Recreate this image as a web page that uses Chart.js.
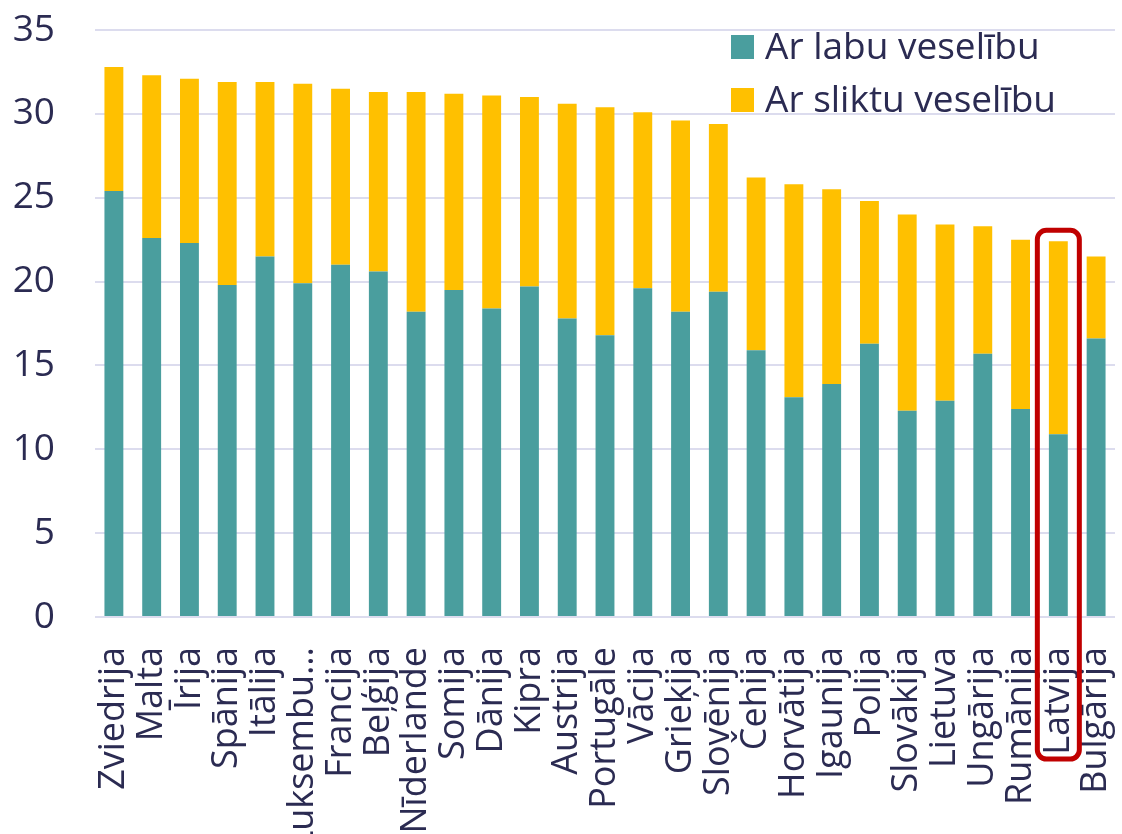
<!DOCTYPE html>
<html lang="lv">
<head>
<meta charset="utf-8">
<script src="https://cdn.jsdelivr.net/npm/chart.js@4.4.1/dist/chart.umd.min.js"></script>
<style>
  html, body { margin: 0; padding: 0; background: #fff; }
  #wrap { width: 1122px; height: 834px; }
</style>
</head>
<body>
<div id="wrap"><canvas id="chart" width="1122" height="834"></canvas></div>
<script>
const countries = ['Zviedrija', 'Malta', 'Īrija', 'Spānija', 'Itālija', 'Luksembu…', 'Francija', 'Beļģija',
    'Nīderlande', 'Somija', 'Dānija', 'Kipra', 'Austrija', 'Portugāle', 'Vācija', 'Grieķija', 'Slovēnija',
    'Čehija', 'Horvātija', 'Igaunija', 'Polija', 'Slovākija', 'Lietuva', 'Ungārija', 'Rumānija', 'Latvija', 'Bulgārija'];

// gadi ar labu veselību
const goodHealth = [25.4, 22.6, 22.3, 19.8, 21.5, 19.9, 21.0, 20.6, 18.2, 19.5, 18.4, 19.7, 17.8, 16.8,
    19.6, 18.2, 19.4, 15.9, 13.1, 13.9, 16.3, 12.3, 12.9, 15.7, 12.4, 10.9, 16.6];
// gadi ar sliktu veselību
const poorHealth = [7.4, 9.7, 9.8, 12.1, 10.4, 11.9, 10.5, 10.7, 13.1, 11.7, 12.7, 11.3, 12.8, 13.6,
    10.5, 11.4, 10.0, 10.3, 12.7, 11.6, 8.5, 11.7, 10.5, 7.6, 10.1, 11.5, 4.9];

const yTicks = [0, 5, 10, 15, 20, 25, 30, 35];
const highlight = 'Latvija';

const textColor = '#2b2b52';
const gridColor = '#dcdcee';
const fontFamily = '"Open Sans", "Noto Sans", sans-serif';

// leģenda augšējā labajā stūrī, virs zīmējuma laukuma
const legendPlugin = {
    id: 'cornerLegend',
    afterDraw(chart) {
        const ctx = chart.ctx;
        ctx.save();
        ctx.font = '37px ' + fontFamily;
        ctx.textBaseline = 'middle';
        chart.data.datasets.forEach((ds, i) => {
            const y = 47 + i * 53;
            ctx.fillStyle = ds.backgroundColor;
            ctx.fillRect(731, y - 12, 23, 24);
            ctx.fillStyle = textColor;
            ctx.fillText(ds.label, 765, y + 1);
        });
        ctx.restore();
    }
};

// sarkanais rāmis ap Latviju
const highlightPlugin = {
    id: 'highlightBox',
    afterDraw(chart) {
        const idx = countries.indexOf(highlight);
        const x = chart.scales.x.getPixelForValue(idx);
        const total = goodHealth[idx] + poorHealth[idx];
        const top = chart.scales.y.getPixelForValue(total) - 11;
        const bottom = chart.scales.y.bottom + 142;
        const ctx = chart.ctx;
        ctx.save();
        ctx.strokeStyle = '#c00000';
        ctx.lineWidth = 5;
        ctx.beginPath();
        ctx.roundRect(x - 21, top, 42, bottom - top, 9);
        ctx.stroke();
        ctx.restore();
    }
};

new Chart(document.getElementById('chart'), {
    type: 'bar',
    data: {
        labels: countries,
        datasets: [
            { label: 'Ar labu veselību', data: goodHealth, backgroundColor: '#4a9e9e' },
            { label: 'Ar sliktu veselību', data: poorHealth, backgroundColor: '#ffc000' }
        ]
    },
    options: {
        responsive: false,
        animation: false,
        layout: { padding: { top: 30, left: 0, right: 7, bottom: 0 } },
        datasets: { bar: { categoryPercentage: 1, barPercentage: 0.5 } },
        plugins: {
            legend: { display: false },
            tooltip: { enabled: false }
        },
        scales: {
            x: {
                stacked: true,
                grid: { display: false },
                border: { display: false },
                afterFit: axis => {
                    axis.height = 217;
                    axis.paddingLeft = 0;
                    axis.paddingRight = 0;
                },
                ticks: {
                    autoSkip: false,
                    minRotation: 90,
                    maxRotation: 90,
                    padding: 22,
                    color: textColor,
                    font: { family: fontFamily, size: 36 }
                }
            },
            y: {
                stacked: true,
                min: 0,
                max: 35,
                afterBuildTicks: axis => { axis.ticks = yTicks.map(v => ({ value: v })); },
                afterFit: axis => {
                    axis.width = 95;
                    axis.paddingTop = 0;
                    axis.paddingBottom = 0;
                },
                grid: { color: gridColor, lineWidth: 2, drawTicks: false },
                border: { display: false },
                ticks: {
                    padding: 40,
                    color: textColor,
                    font: { family: fontFamily, size: 37 }
                }
            }
        }
    },
    plugins: [legendPlugin, highlightPlugin]
});
</script>
</body>
</html>
